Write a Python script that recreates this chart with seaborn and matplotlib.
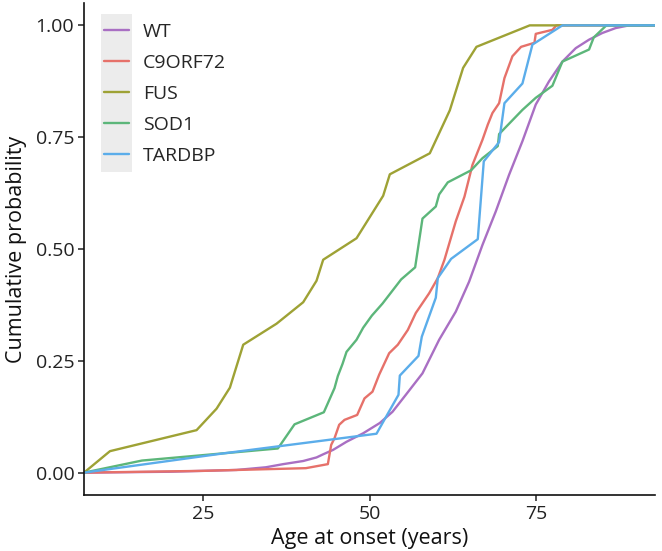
import numpy as np
import pandas as pd
import matplotlib
matplotlib.use("Agg")
import matplotlib.pyplot as plt
import seaborn as sns
from matplotlib.patches import Rectangle
from matplotlib.ticker import FormatStrFormatter

# Cumulative onset curves (age in years, cumulative probability)
groups = ["WT", "C9ORF72", "FUS", "SOD1", "TARDBP"]
colors = ["#a96fc3", "#e6716a", "#9ea235", "#5cb67a", "#5badea"]

wt_age = [20.0, 30.0, 34.4, 37.0, 40.0, 42.0, 43.0, 44.5, 46.5, 49.0, 51.5, 53.4,
          55.4, 57.9, 60.4, 62.9, 64.9, 66.9, 68.9, 70.9, 72.9, 74.9, 76.9, 78.9,
          80.9, 82.9, 84.9, 86.9, 88.9]
wt_cdf = [0.002, 0.006, 0.012, 0.019, 0.026, 0.034, 0.041, 0.051, 0.069, 0.088, 0.111, 0.136,
          0.174, 0.222, 0.297, 0.360, 0.427, 0.509, 0.584, 0.666, 0.741, 0.823, 0.875, 0.919,
          0.949, 0.968, 0.983, 0.994, 1.000]

c9_age = [25.0, 40.4, 43.7, 44.2, 44.7, 45.4, 46.2, 48.1, 49.2, 50.4, 51.4, 52.9, 54.2,
          55.7, 56.9, 57.9, 58.9, 60.2, 61.2, 62.9, 64.2, 65.4, 66.9, 67.7, 68.4, 69.4,
          70.2, 71.4, 72.7, 74.7, 74.9, 77.4, 78.0]
c9_cdf = [0.004, 0.010, 0.019, 0.062, 0.077, 0.107, 0.118, 0.129, 0.166, 0.181, 0.219, 0.267, 0.286,
          0.319, 0.357, 0.379, 0.401, 0.435, 0.476, 0.562, 0.617, 0.688, 0.744, 0.778, 0.804, 0.826,
          0.882, 0.931, 0.952, 0.961, 0.981, 0.990, 1.000]

fus_age = [11.0, 24.0, 27.0, 29.0, 31.0, 36.0, 40.0, 42.0, 43.0, 48.0, 52.0, 53.0,
           59.0, 62.0, 64.0, 66.0, 74.0]
fus_cdf = [0.048, 0.095, 0.143, 0.190, 0.286, 0.333, 0.381, 0.429, 0.476, 0.524, 0.619, 0.667,
           0.714, 0.810, 0.905, 0.952, 1.000]

sod1_age = [15.8, 36.2, 38.7, 43.1, 44.7, 45.2, 45.9, 46.5, 48.0, 49.0, 50.3, 51.9, 53.3,
            54.7, 56.8, 57.9, 59.9, 60.4, 61.7, 65.2, 66.9, 69.2, 69.4, 72.9, 74.9, 77.4,
            78.9, 82.9, 83.6, 85.5]
sod1_cdf = [0.027, 0.054, 0.108, 0.135, 0.189, 0.216, 0.243, 0.270, 0.297, 0.324, 0.351, 0.378, 0.405,
            0.432, 0.459, 0.568, 0.595, 0.622, 0.649, 0.676, 0.703, 0.730, 0.757, 0.811, 0.838, 0.865,
            0.919, 0.946, 0.973, 1.000]

tardbp_age = [28.0, 51.0, 54.3, 54.5, 57.3, 57.8, 59.9, 60.2, 62.2, 66.2, 67.1, 69.4,
              70.2, 72.9, 74.4, 78.9]
tardbp_cdf = [0.043, 0.087, 0.174, 0.217, 0.261, 0.304, 0.391, 0.435, 0.478, 0.522, 0.696, 0.739,
              0.826, 0.870, 0.957, 1.000]

ages = [wt_age, c9_age, fus_age, sod1_age, tardbp_age]
cdfs = [wt_cdf, c9_cdf, fus_cdf, sod1_cdf, tardbp_cdf]

# panel range like ggplot: data range plus 5% each side, curves padded to the edges
all_ages = np.concatenate([np.asarray(a) for a in ages])
span = all_ages.max() - all_ages.min()
x_lo = all_ages.min() - 0.05 * span
x_hi = all_ages.max() + 0.05 * span

frames = []
for name, a, c in zip(groups, ages, cdfs):
    frames.append(pd.DataFrame({
        "age": [x_lo] + list(a) + [x_hi],
        "cdf": [0.0] + list(c) + [1.0],
        "group": name,
    }))
df = pd.concat(frames, ignore_index=True)

sns.set_theme(style="white")
plt.rcParams["font.family"] = ["Open Sans", "DejaVu Sans"]

fig = plt.figure(figsize=(6.62, 5.51), dpi=100)
ax = fig.add_axes([84 / 662, 56 / 551, 571 / 662, 492 / 551])

sns.lineplot(data=df, x="age", y="cdf", hue="group", hue_order=groups,
             palette=colors, estimator=None, sort=False, linewidth=1.7, ax=ax)

ax.set_xlim(x_lo, x_hi)
ax.set_ylim(-0.05, 1.05)
ax.set_xticks([25, 50, 75])
ax.set_yticks([0, 0.25, 0.5, 0.75, 1.0])
ax.yaxis.set_major_formatter(FormatStrFormatter("%.2f"))
ax.set_xlabel("Age at onset (years)", fontsize=15.5, color="#111111", labelpad=4)
ax.set_ylabel("Cumulative probability", fontsize=15.5, color="#111111", labelpad=6)
ax.tick_params(axis="both", which="major", direction="out", length=4, width=1.1,
               color="#222222", labelsize=14, labelcolor="#222222", pad=3,
               bottom=True, left=True)
for side in ["top", "right"]:
    ax.spines[side].set_visible(False)
for side in ["left", "bottom"]:
    ax.spines[side].set_color("#111111")
    ax.spines[side].set_linewidth(1.2)

# grey key background, as in the ggplot legend
ax.add_patch(Rectangle((100.7 / 662, (551 - 171.7) / 551), 31.6 / 662, 157.7 / 551,
                       transform=fig.transFigure, facecolor="#ececec",
                       edgecolor="none", zorder=0.5, clip_on=False))

handles, labels = ax.get_legend_handles_labels()
leg = ax.legend(handles, labels, loc="upper left", bbox_to_anchor=(104 / 662, (551 - 23) / 551),
                bbox_transform=fig.transFigure, frameon=False, fontsize=14,
                handlelength=1.3, handletextpad=0.7, labelspacing=0.67,
                borderpad=0, borderaxespad=0)
leg.set_zorder(5)
for line in leg.get_lines():
    line.set_linewidth(1.7)

fig.savefig("out.png", dpi=100)
plt.close(fig)
